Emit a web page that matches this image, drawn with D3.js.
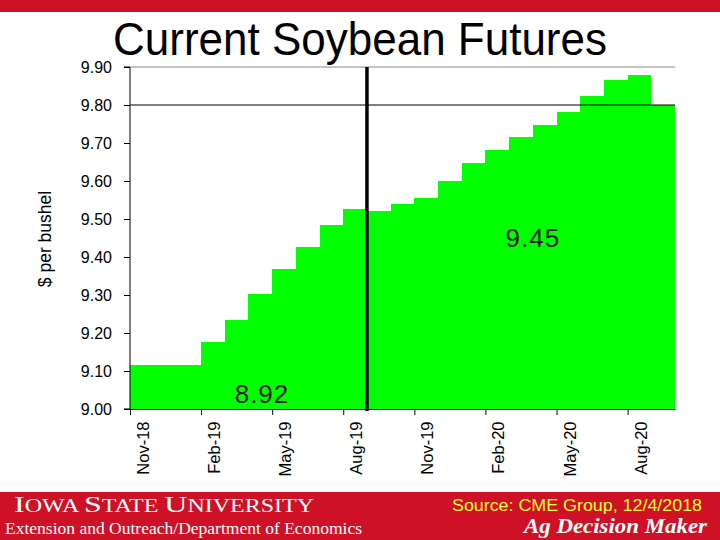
<!DOCTYPE html>
<html>
<head>
<meta charset="utf-8">
<script src="https://cdn.jsdelivr.net/npm/d3@7/dist/d3.min.js"></script>
<style>
  html, body { margin: 0; padding: 0; background: #fff; }
  svg { display: block; }
</style>
</head>
<body>
<svg id="chart" width="720" height="540"></svg>
<script>
// ---- Data ----
const months = ["Nov-18","Dec-18","Jan-19","Feb-19","Mar-19","Apr-19","May-19","Jun-19","Jul-19","Aug-19",
                "Sep-19","Oct-19","Nov-19","Dec-19","Jan-20","Feb-20","Mar-20","Apr-20","May-20","Jun-20",
                "Jul-20","Aug-20","Sep-20"];
const prices = [9.115, 9.115, 9.115, 9.176, 9.234, 9.302, 9.368, 9.427, 9.485, 9.526,
                9.521, 9.539, 9.555, 9.600, 9.647, 9.682, 9.715, 9.747, 9.782, 9.824,
                9.866, 9.879, 9.800];
const tickLabels = ["Nov-18","Feb-19","May-19","Aug-19","Nov-19","Feb-20","May-20","Aug-20"];
const yTicks = [9.0, 9.1, 9.2, 9.3, 9.4, 9.5, 9.6, 9.7, 9.8, 9.9];
const markerMonth = "Sep-19";
const annotations = [
  { text: "8.92", month: 5.57, value: 9.017 },
  { text: "9.45", month: 17.0, value: 9.426 }
];

(function () {
// ---- Layout ----
const svg = d3.select("#chart");
const pLeft = 130, pRight = 675, pTop = 67, pBottom = 409;
const red = "#CE1126";

const x = d3.scaleLinear().domain([0, months.length]).range([pLeft, pRight]);
const y = d3.scaleLinear().domain([9.0, 9.9]).range([pBottom, pTop]);

// top red strip
svg.append("rect").attr("x", 0).attr("y", 0).attr("width", 720).attr("height", 12).attr("fill", red);

// title
svg.append("text")
  .attr("x", 360).attr("y", 55)
  .attr("text-anchor", "middle")
  .attr("font-family", "Liberation Sans, Arial, sans-serif")
  .attr("font-size", 46)
  .attr("textLength", 494).attr("lengthAdjust", "spacingAndGlyphs")
  .attr("fill", "#000")
  .text("Current Soybean Futures");

// area (step)
const pts = months.map((m, i) => ({ i, v: prices[i] }));
pts.push({ i: months.length, v: prices[prices.length - 1] });
const area = d3.area()
  .x(d => x(d.i))
  .y0(y(9.0))
  .y1(d => y(d.v))
  .curve(d3.curveStepAfter);
svg.append("path").datum(pts)
  .attr("d", area)
  .attr("fill", "#00ff00")
  .attr("shape-rendering", "crispEdges");

// gridlines: top gray and 9.80 black
svg.append("line").attr("x1", pLeft).attr("x2", pRight).attr("y1", y(9.9)).attr("y2", y(9.9))
  .attr("stroke", "#888").attr("stroke-width", 1);
svg.append("line").attr("x1", pLeft).attr("x2", pRight).attr("y1", y(9.8)).attr("y2", y(9.8))
  .attr("stroke", "#000").attr("stroke-width", 1);

// y axis
const yAxis = d3.axisLeft(y).tickValues(yTicks).tickFormat(d3.format(".2f")).tickSize(6).tickPadding(12);
const gy = svg.append("g").attr("transform", `translate(${pLeft},0)`).call(yAxis);
gy.select(".domain").attr("d", `M-6,${y(9.9)}H0V${pBottom}H-6`).attr("stroke", "#000");
gy.selectAll("text").attr("font-family", "Liberation Sans, Arial, sans-serif").attr("font-size", 16).attr("fill", "#000");
gy.selectAll(".tick line").attr("stroke", "#000");

// x axis
const tickIdx = tickLabels.map(t => months.indexOf(t));
const xAxis = d3.axisBottom(x).tickValues(tickIdx).tickFormat(i => months[i]).tickSize(6).tickSizeOuter(0);
const gx = svg.append("g").attr("transform", `translate(0,${pBottom})`).call(xAxis);
gx.select(".domain").attr("stroke", "#000");
gx.selectAll(".tick line").attr("stroke", "#000");
gx.selectAll("text")
  .attr("font-family", "Liberation Sans, Arial, sans-serif")
  .attr("font-size", 16.5).attr("fill", "#000")
  .attr("text-anchor", "end")
  .attr("dy", null).attr("y", null)
  .attr("transform", "translate(18.5,12.5) rotate(-90)");

// vertical marker line
const mi = months.indexOf(markerMonth);
svg.append("line").attr("x1", x(mi)).attr("x2", x(mi)).attr("y1", y(9.9)).attr("y2", pBottom + 2)
  .attr("stroke", "#000").attr("stroke-width", 3.5);

// annotations
svg.selectAll(".ann").data(annotations).enter().append("text")
  .attr("class", "ann")
  .attr("x", d => x(d.month)).attr("y", d => y(d.value))
  .attr("text-anchor", "middle")
  .attr("font-family", "Liberation Sans, Arial, sans-serif")
  .attr("font-size", 26).attr("letter-spacing", 1)
  .attr("fill", "#1a1a1a")
  .text(d => d.text);

// y axis title
svg.append("text")
  .attr("transform", "translate(51,239) rotate(-90)")
  .attr("text-anchor", "middle")
  .attr("font-family", "Liberation Sans, Arial, sans-serif")
  .attr("font-size", 17.5).attr("fill", "#000")
  .text("$ per bushel");

// footer band
svg.append("rect").attr("x", 0).attr("y", 492).attr("width", 720).attr("height", 48).attr("fill", red);

const isu = svg.append("text")
  .attr("x", 14).attr("y", 512)
  .attr("font-family", "Liberation Serif, Times New Roman, serif")
  .attr("fill", "#fff")
  .attr("textLength", 300).attr("lengthAdjust", "spacingAndGlyphs");
[["I",24],["OWA ",18],["S",24],["TATE ",18],["U",24],["NIVERSITY",18]].forEach(([t, s]) => {
  isu.append("tspan").attr("font-size", s).text(t);
});

svg.append("text")
  .attr("x", 5).attr("y", 534)
  .attr("font-family", "Liberation Serif, Times New Roman, serif")
  .attr("font-size", 16).attr("fill", "#fff")
  .attr("textLength", 357).attr("lengthAdjust", "spacingAndGlyphs")
  .text("Extension and Outreach/Department of Economics");

svg.append("text")
  .attr("x", 452).attr("y", 510.5)
  .attr("font-family", "Liberation Sans, Arial, sans-serif")
  .attr("font-size", 16).attr("fill", "#ffff33")
  .attr("textLength", 250).attr("lengthAdjust", "spacingAndGlyphs")
  .text("Source: CME Group, 12/4/2018");

svg.append("text")
  .attr("x", 524).attr("y", 533)
  .attr("font-family", "Liberation Serif, Times New Roman, serif")
  .attr("font-size", 21).attr("font-weight", "bold").attr("font-style", "italic")
  .attr("fill", "#fff")
  .attr("textLength", 183).attr("lengthAdjust", "spacingAndGlyphs")
  .text("Ag Decision Maker");
})();
</script>
</body>
</html>
